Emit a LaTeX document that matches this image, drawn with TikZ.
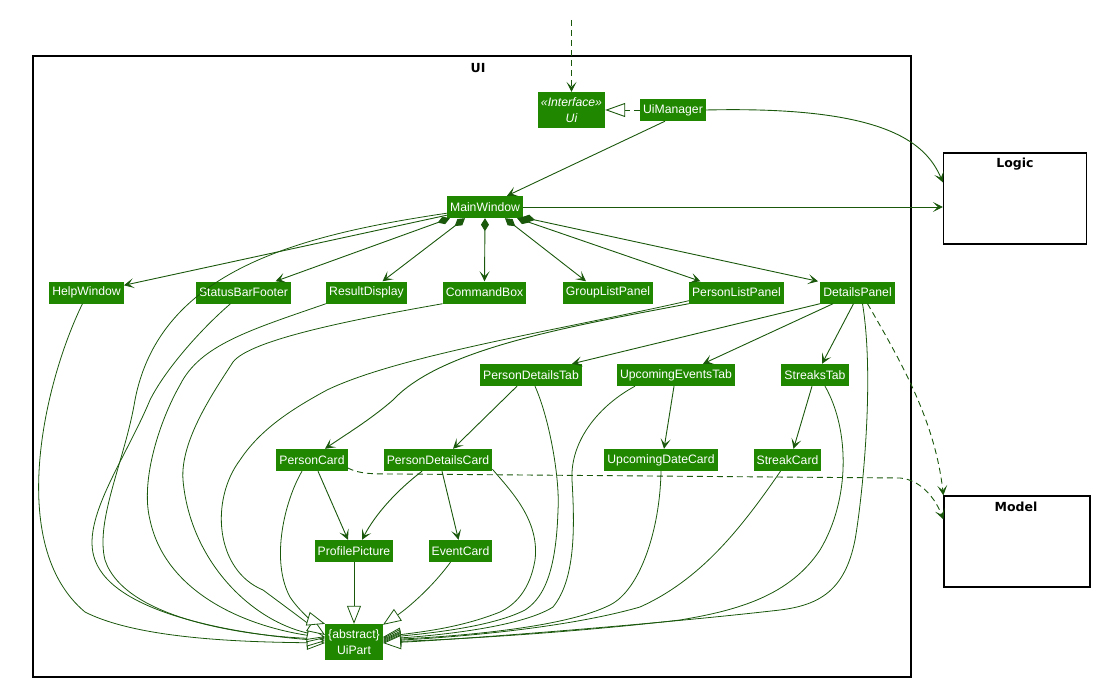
\documentclass[tikz,border=0pt]{standalone}
\usepackage{fontspec}
\setmainfont{Liberation Sans}
\newfontfamily\titlefont{DejaVu Sans}
\usetikzlibrary{arrows.meta}
\definecolor{umlgreen}{RGB}{32,136,0}
\definecolor{lgreen}{RGB}{26,88,12}
\tikzset{
 cls/.style={fill=umlgreen, text=white, inner xsep=3pt, inner ysep=0pt, minimum height=22pt, align=center, font=\fontsize{12.2}{15.5}\selectfont},
 twoline/.style={minimum height=36pt},
 assoc/.style={draw=lgreen, line width=0.9pt, -{Stealth[length=10pt,width=10pt,inset=5pt]}},
 comp/.style={draw=lgreen, line width=0.9pt, {Diamond[length=13pt,width=8pt]}-{Stealth[length=10pt,width=10pt,inset=5pt]}},
 inh/.style={draw=lgreen, line width=0.8pt, -{Triangle[length=18pt,width=14pt,fill=white]}},
 dep/.style={assoc, dash pattern=on 6pt off 4pt},
 real/.style={draw=lgreen, line width=0.9pt, dash pattern=on 6pt off 4pt, -{Triangle[length=20pt,width=14pt,fill=white]}},
 pkgbox/.style={draw=black, line width=1.3pt, inner sep=0pt},
 pkgtitle/.style={font=\titlefont\bfseries\fontsize{12.5}{14}\selectfont, inner sep=0pt}
}
\begin{document}
\begin{tikzpicture}[x=1pt,y=-1pt]
\useasboundingbox (0,0) rectangle (1095,682);
% packages
\node[pkgbox, minimum width=878pt, minimum height=621pt] (UIpkg) at (472,366.5) {};
\node[pkgtitle] (UItitle) at (478,68) {UI};
\node[pkgbox, minimum width=143pt, minimum height=91pt] (Logic) at (1015,198.5) {};
\node[pkgtitle] (Logictitle) at (1015,164) {Logic};
\node[pkgbox, minimum width=146pt, minimum height=91pt] (Model) at (1017,541.5) {};
\node[pkgtitle] (Modeltitle) at (1016,507) {Model};
% classes
\node[cls, twoline, minimum width=63pt] (Ui) at (571.5,110) {\itshape «Interface»\\\itshape Ui};
\node[cls] (UiManager) at (673,110) {UiManager};
\node[cls] (MainWindow) at (485,207) {MainWindow};
\node[cls] (HelpWindow) at (86.5,292.5) {HelpWindow};
\node[cls] (StatusBarFooter) at (243.5,292.5) {StatusBarFooter};
\node[cls] (ResultDisplay) at (366.5,292.5) {ResultDisplay};
\node[cls] (CommandBox) at (484.5,292.5) {CommandBox};
\node[cls] (GroupListPanel) at (608,292.5) {GroupListPanel};
\node[cls] (PersonListPanel) at (736.5,292.5) {PersonListPanel};
\node[cls] (DetailsPanel) at (857.5,292.5) {DetailsPanel};
\node[cls] (PersonDetailsTab) at (531,375) {PersonDetailsTab};
\node[cls] (UpcomingEventsTab) at (676,375) {UpcomingEventsTab};
\node[cls] (StreaksTab) at (815,375) {StreaksTab};
\node[cls] (PersonCard) at (312,460) {PersonCard};
\node[cls] (PersonDetailsCard) at (438,460) {PersonDetailsCard};
\node[cls] (UpcomingDateCard) at (661,460) {UpcomingDateCard};
\node[cls] (StreakCard) at (787.5,460) {StreakCard};
\node[cls] (ProfilePicture) at (354,551) {ProfilePicture};
\node[cls] (EventCard) at (460.5,551) {EventCard};
\node[cls, twoline, minimum width=56pt] (UiPart) at (354,642) {\{abstract\}\\UiPart};
\coordinate (topin) at (571.5,20);
% top
\draw[dep] (topin) -- (Ui.north);
\draw[real] (UiManager.west) -- (Ui.east);
\draw[assoc] ([xshift=-8pt]UiManager.south) -- ([xshift=22pt]MainWindow.north);
\draw[assoc] (UiManager.east) .. controls (880,106) and (925,140) .. ([yshift=-30pt]Logic.north west);
\draw[assoc] (MainWindow.east) -- (MainWindow.east -| Logic.west);
% compositions
\draw[assoc] ([yshift=3pt]MainWindow.south west) -- ([yshift=-4pt]HelpWindow.north east);
\draw[comp] ([xshift=3pt]MainWindow.south west) -- ([xshift=32pt]StatusBarFooter.north);
\draw[comp] ([xshift=-20pt]MainWindow.south) -- ([xshift=16pt]ResultDisplay.north);
\draw[comp] (MainWindow.south) -- (CommandBox.north);
\draw[comp] ([xshift=20pt]MainWindow.south) -- ([xshift=-22pt]GroupListPanel.north);
\draw[comp] ([xshift=-6pt]MainWindow.south east) -- ([xshift=-36pt]PersonListPanel.north);
\draw[comp] ([xshift=-1pt,yshift=1pt]MainWindow.south east) -- ([xshift=-2pt]DetailsPanel.north west);
% associations
\draw[assoc] (DetailsPanel.south west) -- ([xshift=-10pt]PersonDetailsTab.north east);
\draw[assoc] ([xshift=13pt]DetailsPanel.south west) -- ([xshift=27pt]UpcomingEventsTab.north);
\draw[assoc] ([xshift=-4pt]DetailsPanel.south) -- ([xshift=7pt]StreaksTab.north);
\draw[assoc] (PersonListPanel.south west) .. controls (560,328) and (440,350) .. (393,400) .. controls (370,420) and (345,435) .. ([xshift=13pt]PersonCard.north);
\draw[assoc] ([xshift=-14pt]PersonDetailsTab.south) -- ([xshift=15pt]PersonDetailsCard.north);
\draw[assoc] ([xshift=-2pt]UpcomingEventsTab.south) -- ([xshift=3pt]UpcomingDateCard.north);
\draw[assoc] ([xshift=-3pt]StreaksTab.south) -- ([xshift=6pt]StreakCard.north);
\draw[assoc] ([xshift=6pt]PersonCard.south) -- ([xshift=-6pt]ProfilePicture.north);
\draw[assoc] ([xshift=-16pt]PersonDetailsCard.south) .. controls (395,492) and (375,515) .. ([xshift=8pt]ProfilePicture.north);
\draw[assoc] ([xshift=4pt]PersonDetailsCard.south) -- ([xshift=-2pt]EventCard.north);
% dependencies
\draw[dep] ([xshift=10pt]DetailsPanel.south) .. controls (900,360) and (935,420) .. (Model.north west);
\draw[dep] ([yshift=-8pt]PersonCard.east) .. controls (360,474) and (370,474) .. (400,474) -- (900,478) .. controls (922,480) and (936,500) .. ([yshift=-24pt]Model.north west);
% inheritance: left side
\draw[inh] ([xshift=-4pt]HelpWindow.south) .. controls (45,380) and (5,545) .. (85,612) .. controls (140,640) and (250,642) .. ([yshift=-1pt]UiPart.west);
\draw[inh] ([yshift=5pt]MainWindow.south west) .. controls (300,235) and (160,270) .. (135,400) .. controls (125,460) and (95,520) .. (105,560) .. controls (125,620) and (250,636) .. ([yshift=3pt]UiPart.west);
\draw[inh] ([xshift=-13pt]StatusBarFooter.south) .. controls (200,330) and (165,370) .. (150,400) .. controls (125,460) and (80,520) .. (95,560) .. controls (115,615) and (240,634) .. ([yshift=1pt]UiPart.west);
\draw[inh] (ResultDisplay.south west) .. controls (250,330) and (200,345) .. (180,385) .. controls (160,420) and (140,480) .. (150,520) .. controls (165,590) and (240,625) .. ([yshift=4pt]UiPart.west);
\draw[inh] (CommandBox.south west) .. controls (350,320) and (250,340) .. (233,362) .. controls (215,390) and (180,440) .. (183,480) .. controls (190,560) and (250,620) .. ([yshift=5pt]UiPart.west);
\draw[inh] ([yshift=3pt]PersonListPanel.south west) .. controls (560,330) and (400,355) .. (327,390) .. controls (290,410) and (260,430) .. (240,460) .. controls (210,500) and (215,570) .. (263,590) .. controls (290,610) and (310,625) .. ([yshift=7pt]UiPart.west);
\draw[inh] ([xshift=-10pt]PersonCard.south) .. controls (285,500) and (270,560) .. (290,597) .. controls (300,612) and (312,620) .. (UiPart.north west);
\draw[inh] (ProfilePicture.south) -- (UiPart.north);
\draw[inh] ([xshift=-10pt]EventCard.south) .. controls (430,590) and (405,610) .. ([yshift=-1pt]UiPart.north east);
% inheritance: right side
\draw[inh] ([yshift=2pt]PersonDetailsCard.south east) .. controls (510,490) and (540,520) .. (535,560) .. controls (530,590) and (515,605) .. (500,612) .. controls (460,628) and (420,632) .. ([yshift=5pt]UiPart.east);
\draw[inh] ([xshift=4pt]PersonDetailsTab.south) .. controls (550,420) and (560,480) .. (558,510) .. controls (556,580) and (540,600) .. (525,610) .. controls (490,628) and (420,634) .. ([yshift=4pt]UiPart.east);
\draw[inh] ([xshift=-41pt]UpcomingEventsTab.south) .. controls (600,405) and (570,440) .. (572,480) .. controls (575,530) and (575,580) .. (553,607) .. controls (520,628) and (430,636) .. ([yshift=3pt]UiPart.east);
\draw[inh] (UpcomingDateCard.south) .. controls (660,530) and (640,590) .. (610,605) .. controls (560,630) and (440,637) .. ([yshift=2pt]UiPart.east);
\draw[inh] ([xshift=-7pt]StreakCard.south) .. controls (740,530) and (700,580) .. (640,607) .. controls (560,630) and (440,638) .. ([yshift=1pt]UiPart.east);
\draw[inh] ([xshift=10pt]StreaksTab.south) .. controls (850,430) and (850,500) .. (820,550) .. controls (790,595) and (740,610) .. (680,620) .. controls (560,634) and (440,640) .. (UiPart.east);
\draw[inh] ([xshift=5pt]DetailsPanel.south) .. controls (875,380) and (862,500) .. (855,540) .. controls (845,590) and (820,605) .. (780,610) .. controls (650,625) and (450,640) .. ([yshift=-1pt]UiPart.east);
\end{tikzpicture}
\end{document}
